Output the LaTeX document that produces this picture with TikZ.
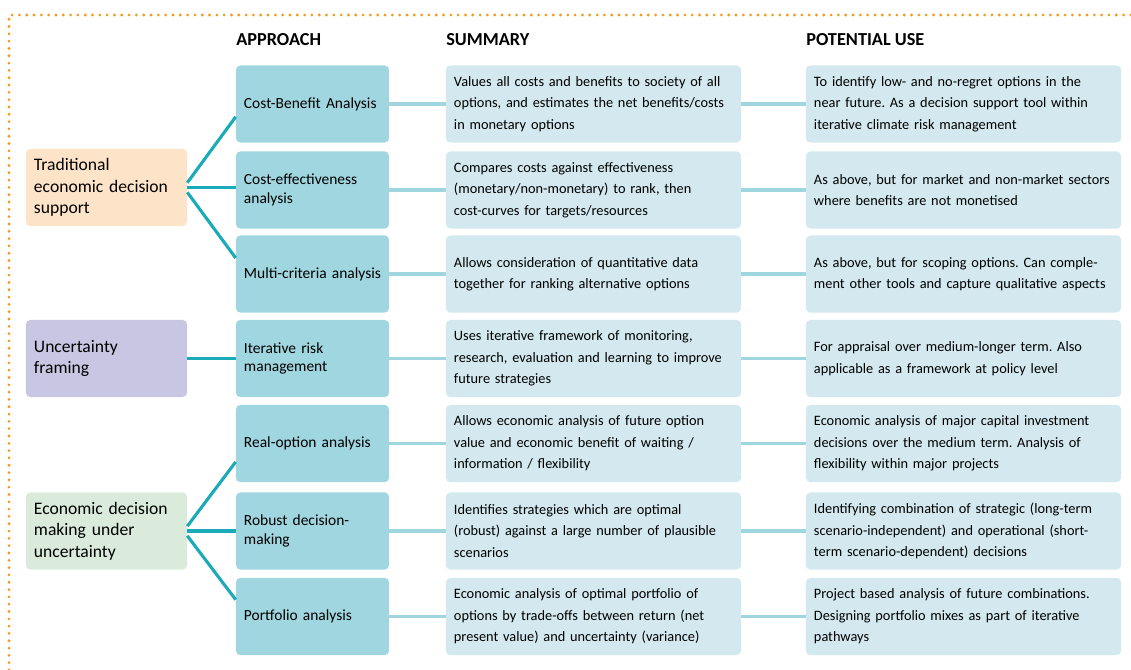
\documentclass[tikz,border=0pt]{standalone}
\usepackage{fontspec}
\setmainfont{Carlito}
\usetikzlibrary{positioning}

\definecolor{dotorange}{HTML}{F39A1E}
\definecolor{catpeach}{HTML}{FDE4C8}
\definecolor{catlilac}{HTML}{C8C6E2}
\definecolor{catgreen}{HTML}{DAEBDC}
\definecolor{appteal}{HTML}{9FD6DF}
\definecolor{sumblue}{HTML}{D3E9EF}
\definecolor{lineteal}{HTML}{1AAAB8}

\tikzset{
  box/.style={rounded corners=3pt, align=left, inner xsep=0.2cm, inner ysep=0pt,
    minimum height=1.925cm, font=\fontsize{10.2}{15.2}\selectfont},
  catbox/.style={box, text width=3.625cm, font=\fontsize{12.5}{15.4}\selectfont},
  appbox/.style={box, fill=appteal, text width=3.425cm, font=\fontsize{11}{13}\selectfont},
  sumbox/.style={box, fill=sumblue, text width=6.975cm},
  usebox/.style={box, fill=sumblue, text width=7.475cm},
  head/.style={anchor=west, inner sep=0pt, font=\bfseries\fontsize{13}{15}\selectfont},
  branch/.style={draw=lineteal, line width=2.2pt},
  link/.style={draw=appteal, line width=2.2pt},
}

\begin{document}
\frenchspacing
\begin{tikzpicture}[x=0.025cm, y=-0.025cm]
    \useasboundingbox (0,0) rectangle (1131,670);

    % dotted frame, open to the right and bottom
    \draw[dotorange, line width=2.2pt, line cap=round, dash pattern=on 0pt off 5.2pt]
        (9,670) -- (9,15) -- (1131,15);

    \node[head] (happ) at (236,40) {APPROACH};
    \node[head] (hsum) at (446,40) {SUMMARY};
    \node[head] (huse) at (806,40) {POTENTIAL USE};

    % categories
    \node[catbox, fill=catpeach] (trad) at (106.5,187.5) {Traditional\\economic decision\\support};
    \node[catbox, fill=catlilac] (unc) at (106.5,358.5) {Uncertainty\\framing};
    \node[catbox, fill=catgreen] (econ) at (106.5,531) {Economic decision\\making under\\uncertainty};

    % approaches
    \node[appbox] (cba) at (312.5,104) {Cost-Benefit Analysis};
    \node[appbox] (cea) at (312.5,190) {Cost-effectiveness\\analysis};
    \node[appbox] (mca) at (312.5,274) {Multi-criteria analysis};
    \node[appbox] (irm) at (312.5,358.5) {Iterative risk\\management};
    \node[appbox] (roa) at (312.5,443.5) {Real-option analysis};
    \node[appbox] (rdm) at (312.5,531) {Robust decision-\\making};
    \node[appbox] (pa)  at (312.5,616.5) {Portfolio analysis};

    % summaries
    \node[sumbox] (scba) at (593.5,104) {Values all costs and benefits to society of all\\options, and estimates the net benefits/costs\\in monetary options};
    \node[sumbox] (scea) at (593.5,190) {Compares costs against effectiveness\\(monetary/non-monetary) to rank, then\\cost-curves for targets/resources};
    \node[sumbox] (smca) at (593.5,274) {Allows consideration of quantitative data\\together for ranking alternative options};
    \node[sumbox] (sirm) at (593.5,358.5) {Uses iterative framework of monitoring,\\research, evaluation and learning to improve\\future strategies};
    \node[sumbox] (sroa) at (593.5,443.5) {Allows economic analysis of future option\\value and economic benefit of waiting /\\information / flexibility};
    \node[sumbox] (srdm) at (593.5,531) {Identifies strategies which are optimal\\(robust) against a large number of plausible\\scenarios};
    \node[sumbox] (spa)  at (593.5,616.5) {Economic analysis of optimal portfolio of\\options by trade-offs between return (net\\present value) and uncertainty (variance)};

    % potential uses
    \node[usebox] (ucba) at (963.5,104) {To identify low- and no-regret options in the\\near future. As a decision support tool within\\iterative climate risk management};
    \node[usebox] (ucea) at (963.5,190) {As above, but for market and non-market sectors\\where benefits are not monetised};
    \node[usebox] (umca) at (963.5,274) {As above, but for scoping options. Can comple-\\ment other tools and capture qualitative aspects};
    \node[usebox] (uirm) at (963.5,358.5) {For appraisal over medium-longer term. Also\\applicable as a framework at policy level};
    \node[usebox] (uroa) at (963.5,443.5) {Economic analysis of major capital investment\\decisions over the medium term. Analysis of\\flexibility within major projects};
    \node[usebox] (urdm) at (963.5,531) {Identifying combination of strategic (long-term\\scenario-independent) and operational (short-\\term scenario-dependent) decisions};
    \node[usebox] (upa)  at (963.5,616.5) {Project based analysis of future combinations.\\Designing portfolio mixes as part of iterative\\pathways};

    % branches
    \draw[branch] ([yshift=0.12cm]trad.east) -- ([yshift=-0.32cm]cba.west);
    \draw[branch] (trad.east) -- (trad.east -| cea.west);
    \draw[branch] ([yshift=-0.12cm]trad.east) -- ([yshift=0.4cm]mca.west);
    \draw[branch] (unc) -- (irm);
    \draw[branch] ([yshift=0.12cm]econ.east) -- ([yshift=-0.46cm]roa.west);
    \draw[branch] (econ.east) -- (rdm.west);
    \draw[branch] ([yshift=-0.12cm]econ.east) -- ([yshift=0.42cm]pa.west);

    % links across the rows
    \foreach \a/\s/\u in {cba/scba/ucba, cea/scea/ucea, mca/smca/umca, irm/sirm/uirm,
                          roa/sroa/uroa, rdm/srdm/urdm, pa/spa/upa} {
        \draw[link] (\a) -- (\s);
        \draw[link] (\s) -- (\u);
    }

\end{tikzpicture}
\end{document}
